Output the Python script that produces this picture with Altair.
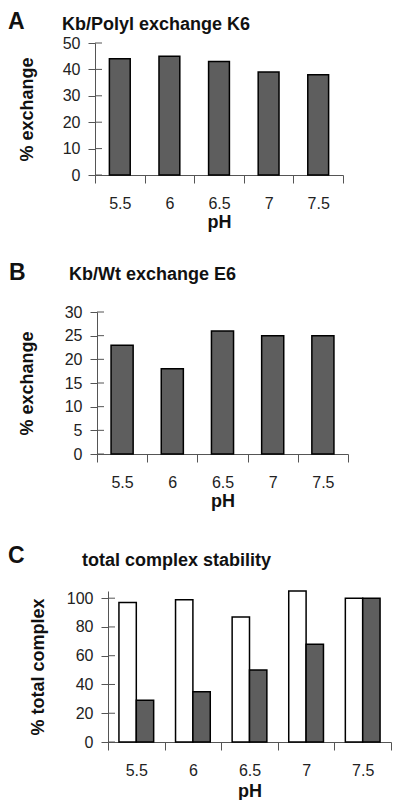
import altair as alt
import pandas as pd

# ---- data ----
ph = ["5.5", "6", "6.5", "7", "7.5"]
exchange_k6 = [44, 45, 43, 39, 38]
exchange_e6 = [23, 18, 26, 25, 25]
complex_open = [97, 99, 87, 105, 100]
complex_hatched = [29, 35, 50, 68, 100]
series_names = ["open", "hatched"]
letters = ["A", "B", "C"]
titles = ["Kb/Polyl exchange K6", "Kb/Wt exchange E6", "total complex stability"]
y_titles = ["% exchange", "% exchange", "% total complex"]
ticks_a = [0, 10, 20, 30, 40, 50]
ticks_b = [0, 5, 10, 15, 20, 25, 30]
ticks_c = [0, 20, 40, 60, 80, 100]

FONT = "Liberation Sans"
HATCH = "#5e5e5e"
AXC = "#555555"
W = 283  # common plot-area width (panel C); keeps the page free of overflow


def xaxis(title_y):
    return alt.Axis(
        title="pH", labelAngle=0, labelFont=FONT, labelFontSize=16, labelColor="#222",
        labelPadding=12, tickSize=8, tickBand="extent", domainColor=AXC, tickColor=AXC,
        titleFont=FONT, titleFontSize=18, titleFontWeight="bold", titleColor="#111",
        titleY=title_y, titleBaseline="top", grid=False,
    )


def yaxis(title, values, tx, ty, off):
    return alt.Axis(
        title=title, values=values, grid=False, labelFont=FONT, labelFontSize=16,
        labelColor="#222", labelPadding=8, tickSize=7, domainColor=AXC, tickColor=AXC,
        titleFont=FONT, titleFontSize=18, titleFontWeight="bold", titleColor="#111",
        titleX=tx, titleY=ty, titleAngle=270, titleAlign="center", titleBaseline="middle",
        offset=off,
    )


def decorations(i, lx, ly, tx, ty, top, h):
    lab = pd.DataFrame({"letter": [letters[i]], "title": [titles[i]]})
    letter = alt.Chart(lab).mark_text(
        align="left", baseline="top", font=FONT, fontSize=23, fontWeight="bold", color="#111"
    ).encode(x=alt.value(lx), y=alt.value(ly), text="letter:N")
    title = alt.Chart(lab).mark_text(
        align="left", baseline="top", font=FONT, fontSize=18, fontWeight="bold", color="#111"
    ).encode(x=alt.value(tx), y=alt.value(ty), text="title:N")
    guard = alt.Chart(lab).mark_rule(opacity=0).encode(
        x=alt.value(-100), x2=alt.value(-100), y=alt.value(-top), y2=alt.value(h)
    )
    return [letter, title, guard]


def inner_ticks(values, axis_x, y_enc):
    # inner half of the y-axis ticks (reference ticks cross the axis line)
    dft = pd.DataFrame({"value": values})
    return alt.Chart(dft).mark_rule(color=AXC, strokeWidth=1).encode(
        x=alt.value(axis_x), x2=alt.value(axis_x + 7), y=y_enc
    )


# ---- panel A ----
HA = 132
ya = alt.Y("value:Q", scale=alt.Scale(domain=[0, 50]),
           axis=yaxis(y_titles[0], ticks_a, -68, HA / 2, 13))
dfa = pd.DataFrame({"pH": ph, "value": exchange_k6})
bars_a = alt.Chart(dfa).mark_bar(
    fill=HATCH, stroke="black", strokeWidth=1.5, width=alt.RelativeBandSize(0.42)
).encode(
    x=alt.X("pH:N", sort=ph, scale=alt.Scale(paddingInner=0, paddingOuter=0, range=[-13, 235]),
            axis=xaxis(38.5)),
    y=ya,
)
panel_a = alt.layer(
    bars_a, inner_ticks(ticks_a, -13, ya), *decorations(0, -100, -31.7, -46, -27.3, 35, HA)
).properties(width=W, height=HA)

# ---- panel B ----
HB = 142
yb = alt.Y("value:Q", scale=alt.Scale(domain=[0, 30]),
           axis=yaxis(y_titles[1], ticks_b, -70, HB / 2, 11))
dfb = pd.DataFrame({"pH": ph, "value": exchange_e6})
bars_b = alt.Chart(dfb).mark_bar(
    fill=HATCH, stroke="black", strokeWidth=1.5, width=alt.RelativeBandSize(0.44)
).encode(
    x=alt.X("pH:N", sort=ph, scale=alt.Scale(paddingInner=0, paddingOuter=0, range=[-11, 240]),
            axis=xaxis(38)),
    y=yb,
)
panel_b = alt.layer(
    bars_b, inner_ticks(ticks_b, -11, yb), *decorations(1, -99, -50.5, -39, -46.5, 10, HB)
).properties(width=W, height=HB)

# ---- panel C ----
HC = 151
yc = alt.Y("value:Q", scale=alt.Scale(domain=[0, 105]),
           axis=yaxis(y_titles[2], ticks_c, -70, HC / 2, 0))
dfc = pd.DataFrame({
    "pH": ph * 2,
    "series": [series_names[0]] * len(ph) + [series_names[1]] * len(ph),
    "value": complex_open + complex_hatched,
})
bars_c = alt.Chart(dfc).mark_bar(stroke="black", strokeWidth=1.5).encode(
    x=alt.X("pH:N", sort=ph, scale=alt.Scale(paddingInner=0, paddingOuter=0), axis=xaxis(40)),
    xOffset=alt.XOffset("series:N", sort=series_names,
                        scale=alt.Scale(paddingInner=0, paddingOuter=0.63)),
    y=yc,
    fill=alt.Fill("series:N", scale=alt.Scale(domain=series_names, range=["white", HATCH]),
                  legend=None),
)
panel_c = alt.layer(
    bars_c, inner_ticks(ticks_c, 0, yc), *decorations(2, -100, -45.7, -26, -39.3, 10, HC)
).properties(width=W, height=HC)

chart = alt.vconcat(panel_a, panel_b, panel_c, spacing=137, bounds="flush").properties(
    padding=0, background="white"
).configure_view(stroke=None)

chart.save("out.html", embed_options={"renderer": "svg", "actions": False})
